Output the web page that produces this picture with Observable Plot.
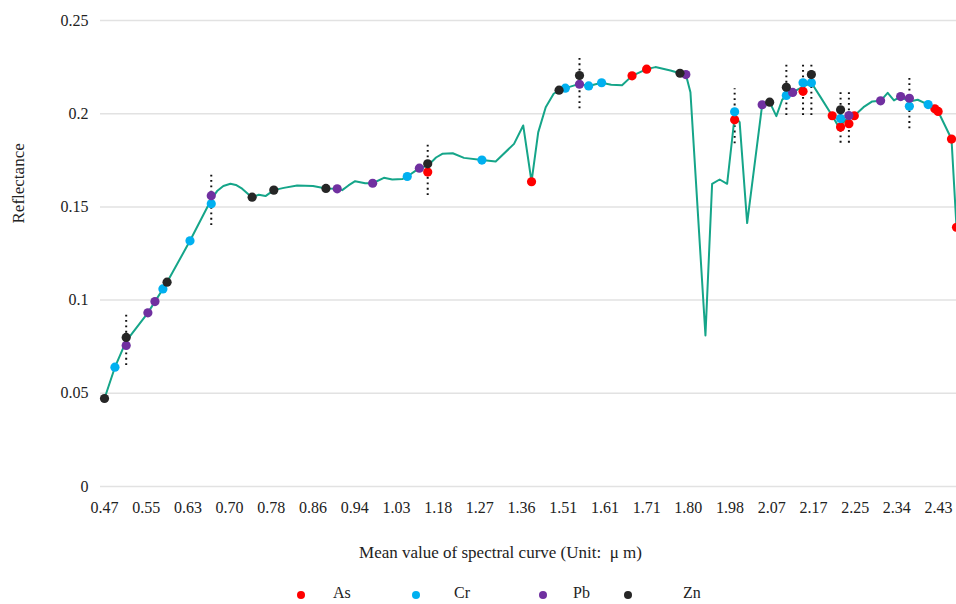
<!DOCTYPE html>
<html><head><meta charset="utf-8">
<script src="https://cdn.jsdelivr.net/npm/d3@7"></script>
<script src="https://cdn.jsdelivr.net/npm/@observablehq/plot@0.6"></script>
<style>
body{margin:0;background:#fff;font-family:'Liberation Serif',serif;}
#legend{position:relative;width:956px;height:24px;}
.sw{position:absolute;top:11px;width:8px;height:8px;border-radius:50%;}
.lb{position:absolute;top:5px;font-size:16px;color:#222;line-height:16px;font-family:'Liberation Serif',serif;}
svg text{font-family:'Liberation Serif',serif;}
</style></head><body><div id="chart"></div><div id="legend"></div>
<script>
// x tick labels (wavelength, µm) placed every 10 band positions
const tickLabels = ["0.47","0.55","0.63","0.70","0.78","0.86","0.94","1.03","1.18","1.27","1.36","1.51","1.61","1.71","1.80","1.98","2.07","2.17","2.25","2.34","2.43"];
const yTicks = [0, 0.05, 0.1, 0.15, 0.2, 0.25];

// mean spectral curve: band position and reflectance
const curvePos = [0,2.5,5.2,10.4,12.1,14.0,15.0,20.5,25.6,27,28.5,30.2,31.5,33,34.5,35.4,37,38.6,40.6,43,46.2,50,53.1,55.8,57,58.5,60.1,62.5,64.3,67,69,71.5,72.6,75.5,77.5,79.5,81,83.5,86.2,90.5,93.8,98.2,100.4,102.4,104,105.8,107.7,109,110.5,113.9,116.1,119.2,121.5,124.1,126.5,130,132.1,135.7,138,139.4,140.5,144.1,145.7,147.5,149.3,151.1,152.3,154.1,157.7,159.5,161.1,162.5,163.5,165,167.5,169.5,171.7,174.5,176.1,178.5,179.8,182,184.1,186.1,187.8,189.3,190.9,193,195,197.5,199.1,199.9,203.1,204.3];
const curveVal = [0.0472,0.064,0.078,0.0932,0.0992,0.106,0.1096,0.1318,0.154,0.1585,0.1612,0.1624,0.1618,0.1598,0.1568,0.1552,0.1565,0.1558,0.159,0.1602,0.1615,0.1612,0.1599,0.1597,0.1590,0.1615,0.1638,0.1627,0.1627,0.1656,0.1647,0.165,0.1663,0.1708,0.172,0.1765,0.1785,0.1788,0.1763,0.1751,0.1744,0.1838,0.1937,0.1635,0.190,0.2035,0.2107,0.2126,0.2137,0.216,0.2149,0.2166,0.2155,0.2153,0.2203,0.2239,0.2250,0.2232,0.2217,0.2210,0.2115,0.081,0.1624,0.1647,0.1624,0.1985,0.1955,0.1413,0.2048,0.2062,0.1987,0.2075,0.2098,0.2114,0.2145,0.2166,0.2089,0.1989,0.1928,0.1985,0.1989,0.2035,0.2066,0.2069,0.2112,0.2071,0.2092,0.2065,0.2075,0.2049,0.2026,0.2012,0.1864,0.1391];

// characteristic bands per element
const asPos = [77.5,102.4,126.5,130,151.1,167.5,174.5,176.5,178.5,179.8,199.1,199.9,203.1,204.3];
const asVal = [0.1687,0.1635,0.2203,0.2239,0.1967,0.212,0.1989,0.1928,0.1946,0.1989,0.2026,0.2012,0.1864,0.1391];
const crPos = [2.5,14,20.5,25.6,72.6,90.5,110.5,116.1,119.2,151.1,163.5,167.5,169.5,176.5,193,197.5];
const crVal = [0.064,0.106,0.1318,0.1517,0.1663,0.1751,0.2137,0.2149,0.2166,0.201,0.2098,0.2166,0.2166,0.1974,0.2040,0.2049];
const pbPos = [5.2,10.4,12.1,25.6,55.8,64.3,75.5,113.9,139.4,157.7,165,178.5,186.1,190.9,193];
const pbVal = [0.0757,0.0932,0.0992,0.156,0.1597,0.1627,0.1708,0.2158,0.2210,0.2048,0.2114,0.1990,0.2069,0.2092,0.2083];
const znPos = [0,5.2,15,35.4,40.6,53.1,77.5,109,113.9,138,159.5,163.5,169.5,176.5];
const znVal = [0.0472,0.080,0.1096,0.1552,0.159,0.1599,0.1731,0.2126,0.2205,0.2217,0.2062,0.2142,0.2210,0.2021];

// shared bands marked with dotted rules
const rulePos = [5.2,25.6,77.5,113.9,151.1,163.5,167.5,169.5,176.5,178.5,193];
const ruleLo  = [0.0649,0.1400,0.1561,0.2026,0.1839,0.1990,0.1990,0.1990,0.1842,0.1842,0.1919];
const ruleHi  = [0.0935,0.1686,0.1847,0.2312,0.2134,0.2280,0.2280,0.2280,0.2128,0.2128,0.2209];

const elements = ["As","Cr","Pb","Zn"];
const colors = ["#ff0000","#00b0f0","#7030a0","#262626"];

const curve = curvePos.map((p,i)=>({p, v:curveVal[i]}));
const pts = [];
[[asPos,asVal],[crPos,crVal],[pbPos,pbVal],[znPos,znVal]].forEach(([P,V],k)=>{
  P.forEach((p,i)=>pts.push({p, v:V[i], el:elements[k]}));
});
const rules = rulePos.map((p,i)=>({p, lo:ruleLo[i], hi:ruleHi[i]}));

const chart = Plot.plot({
  width: 956, height: 580,
  marginLeft: 100, marginRight: 0, marginTop: 20, marginBottom: 94,
  style: {fontFamily: "Liberation Serif, serif", fontSize: "16px", color: "#222", background: "#fff"},
  x: {domain: [-0.96, 204.3], ticks: d3.range(0, 201, 10), tickFormat: d => tickLabels[Math.round(d/10)], tickSize: 0, tickPadding: 15, label: null},
  y: {domain: [0, 0.25], ticks: yTicks, tickFormat: d => String(+d.toFixed(2)), tickSize: 0, tickPadding: 12, label: null},
  color: {domain: elements, range: colors},
  marks: [
    Plot.ruleY(yTicks, {stroke: "#e2e2e2", strokeWidth: 1.5}),
    Plot.ruleX(rules, {x: "p", y1: "lo", y2: "hi", stroke: "#111", strokeWidth: 2, strokeDasharray: "1.8,3.6"}),
    Plot.line(curve, {x: "p", y: "v", stroke: "#15a589", strokeWidth: 2}),
    Plot.dot(pts, {x: "p", y: "v", fill: "el", r: 4.6}),
    Plot.text(["Mean value of spectral curve (Unit:  \u03bc m)"], {frameAnchor: "bottom", dy: 71, dx: -28, fontSize: 17, fill: "#222"}),
    Plot.text(["Reflectance"], {frameAnchor: "left", rotate: -90, dx: -82, dy: -30, fontSize: 17, fill: "#222"})
  ]
});
document.getElementById("chart").appendChild(chart);

// legend
const lg = document.getElementById("legend");
const swX = [297, 412, 539, 624];
const lbX = [333, 454, 573, 683];
elements.forEach((e,i)=>{
  const s = document.createElement("div"); s.className="sw"; s.style.left=swX[i]+"px"; s.style.background=colors[i]; lg.appendChild(s);
  const t = document.createElement("div"); t.className="lb"; t.style.left=lbX[i]+"px"; t.textContent=e; lg.appendChild(t);
});
</script></body></html>
